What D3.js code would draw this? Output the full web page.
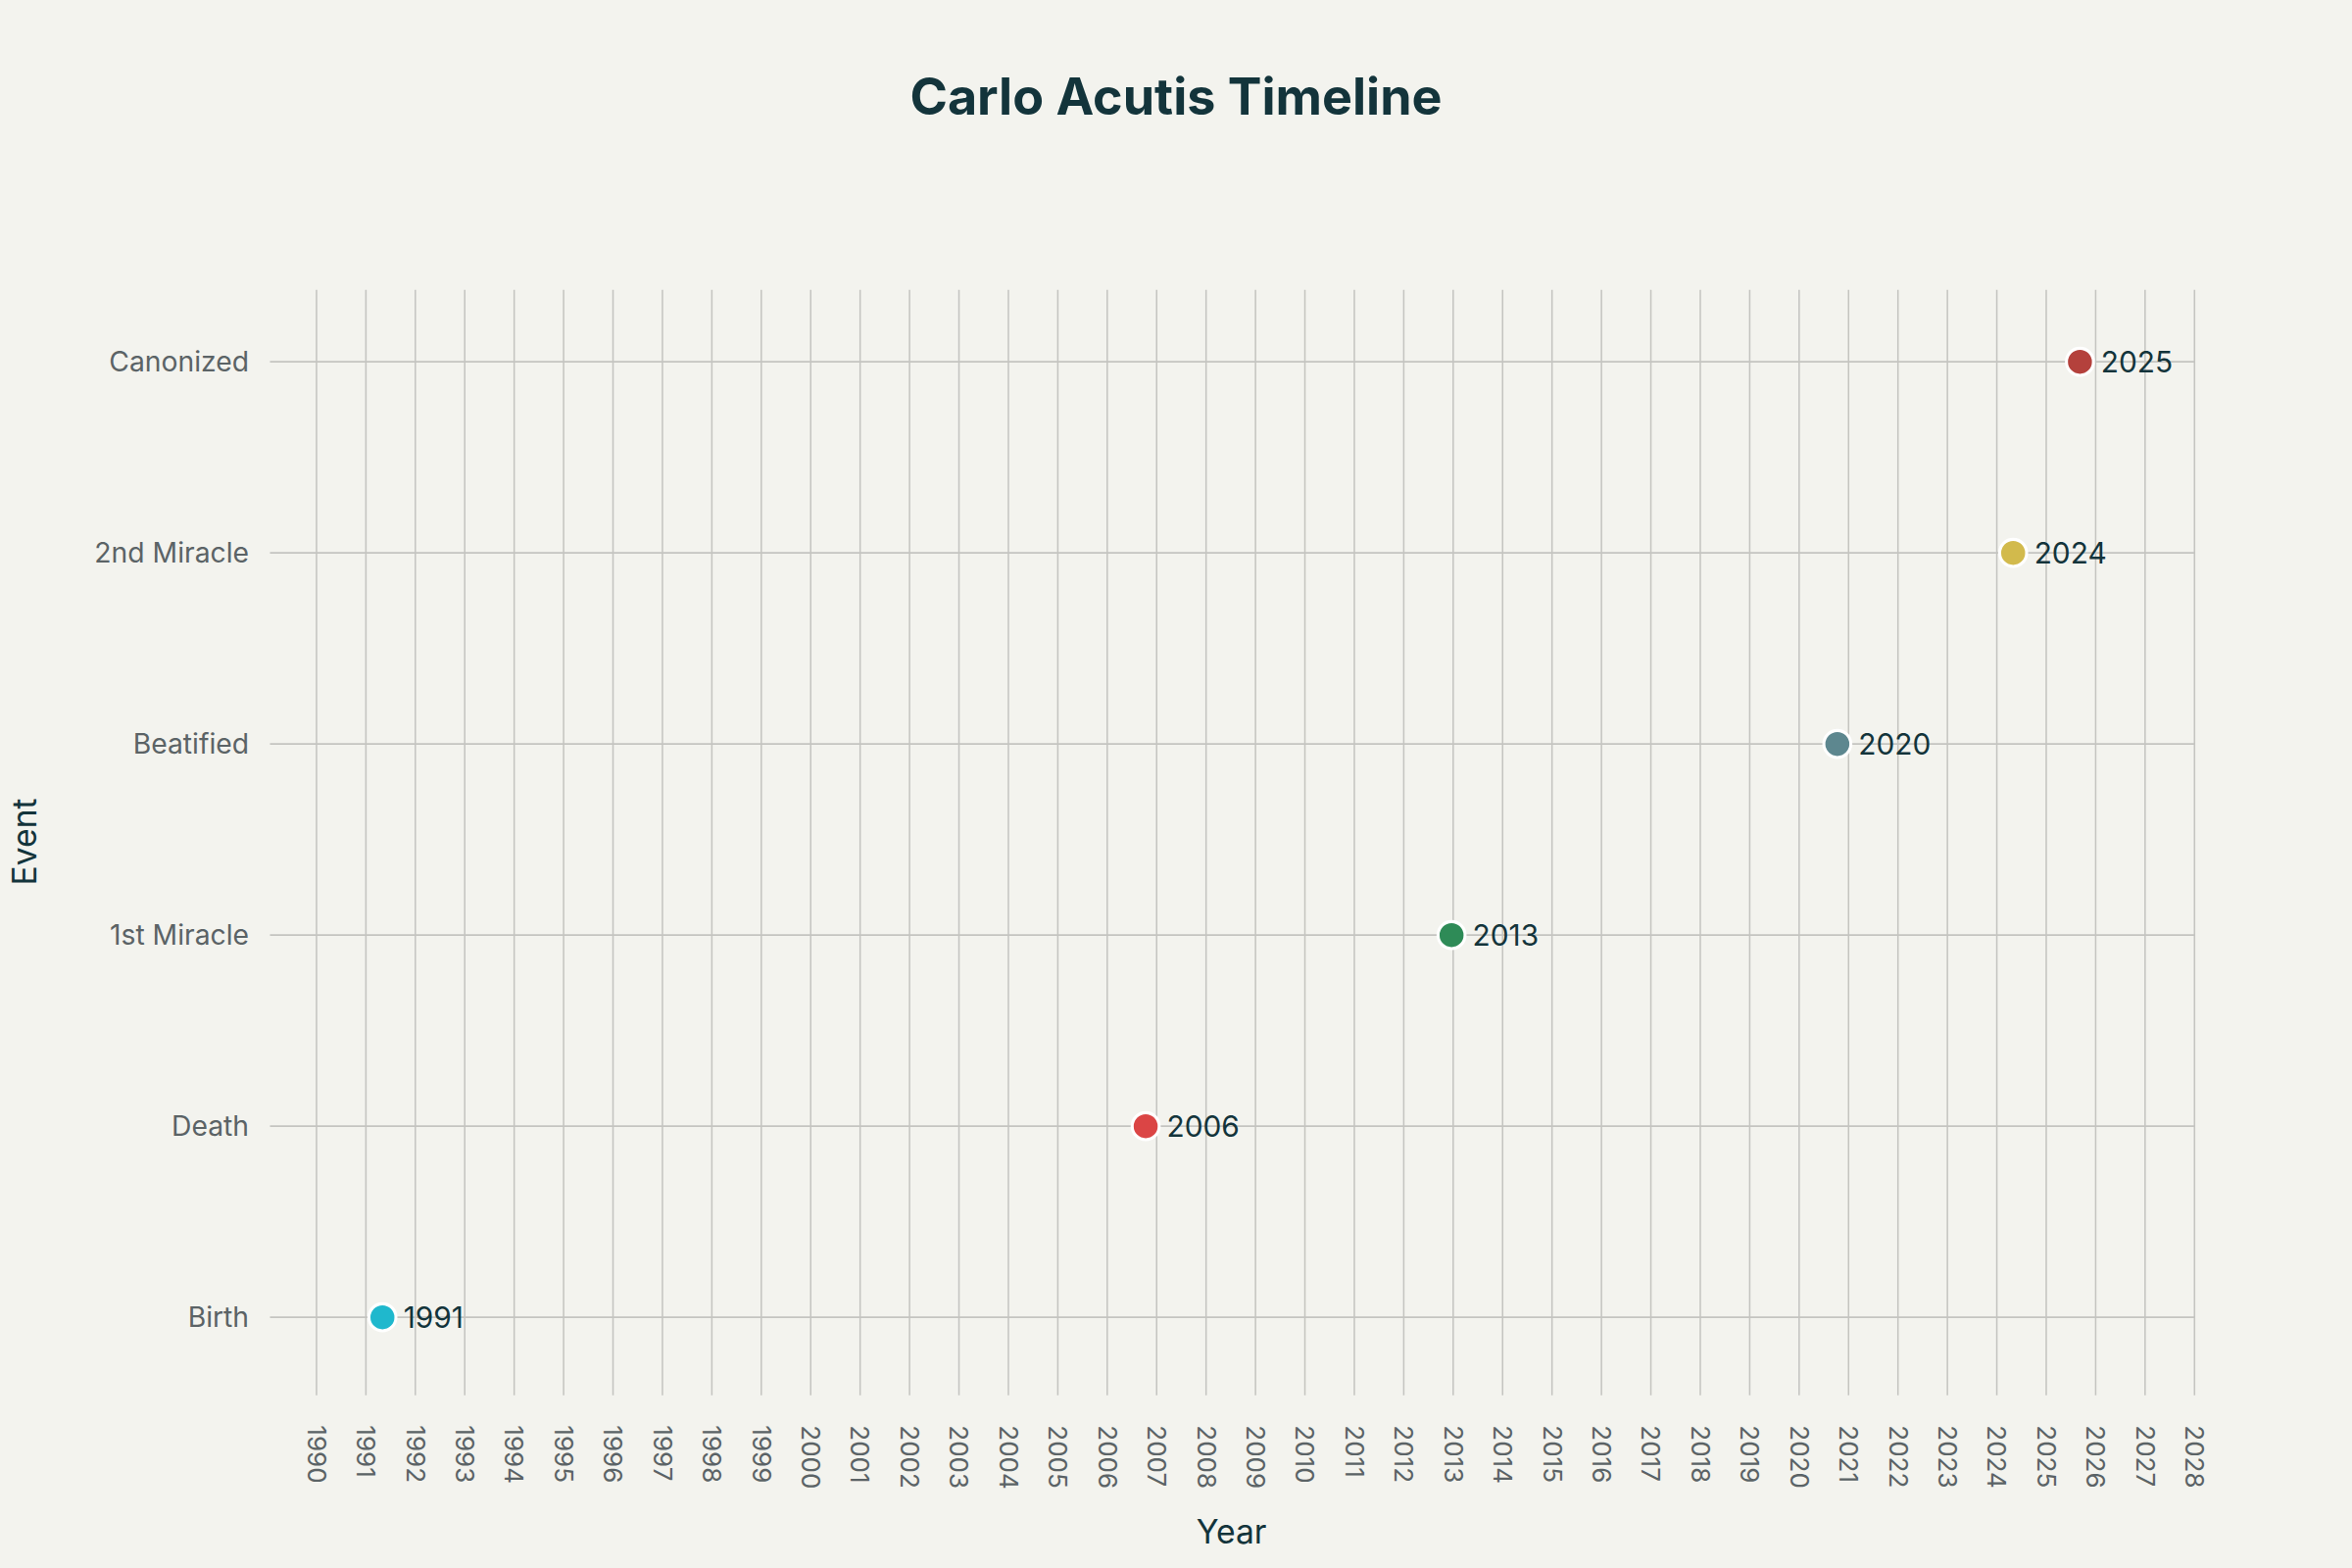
<!doctype html>
<html>
<head>
<script src="https://cdn.jsdelivr.net/npm/d3@7"></script>
<style>
  body { margin: 0; background: #F3F3EE; }
  text { font-family: Inter, "Noto Sans", sans-serif; }
</style>
</head>
<body>
<svg id="chart" width="2400" height="1600" viewBox="0 0 1568 1045"></svg>
<script>
// data
var events = ["Birth", "Death", "1st Miracle", "Beatified", "2nd Miracle", "Canonized"];
var dates = ["1991-05-03", "2006-10-12", "2012-12-20", "2020-10-10", "2024-05-01", "2025-09-07"];
var labels = ["1991", "2006", "2013", "2020", "2024", "2025"];
var colors = ["#1FB8CD", "#DB4545", "#2E8B57", "#5D878F", "#D2BA4C", "#B4413C"];
var tickYears = d3.range(1990, 2029);

var svg = d3.select("#chart");
var plotLeft = 180, plotRight = 1463, plotTop = 193, plotBottom = 930;

var x = d3.scaleLinear().domain([1990 - (211 - plotLeft) / 32.95, 2028]).range([plotLeft, plotRight]);
var y = d3.scalePoint().domain(events).range([878, 241]);

function yearFrac(s) {
  var d = new Date(s);
  var y0 = new Date(d.getFullYear(), 0, 1), y1 = new Date(d.getFullYear() + 1, 0, 1);
  return d.getFullYear() + (d - y0) / (y1 - y0);
}

// grid
svg.append("g").selectAll("line").data(tickYears).enter().append("line")
  .attr("x1", function(d){ return x(d); }).attr("x2", function(d){ return x(d); })
  .attr("y1", plotTop).attr("y2", plotBottom)
  .attr("stroke", "#c4c4c0").attr("stroke-width", 1);
svg.append("g").selectAll("line").data(events).enter().append("line")
  .attr("x1", plotLeft).attr("x2", plotRight)
  .attr("y1", function(d){ return y(d); }).attr("y2", function(d){ return y(d); })
  .attr("stroke", "#c4c4c0").attr("stroke-width", 1);

// x tick labels (rotated)
svg.append("g").selectAll("text").data(tickYears).enter().append("text")
  .attr("transform", function(d){ return "translate(" + (x(d) - 6) + "," + 950 + ") rotate(90)"; })
  .attr("font-size", 17).attr("fill", "#5b6366")
  .text(function(d){ return d; });

// y tick labels
svg.append("g").selectAll("text").data(events).enter().append("text")
  .attr("x", 166).attr("y", function(d){ return y(d); })
  .attr("dy", "0.35em").attr("text-anchor", "end")
  .attr("font-size", 18.5).attr("fill", "#5b6366")
  .text(function(d){ return d; });

// points
var pts = events.map(function(e, i){ return {e: e, t: yearFrac(dates[i]), l: labels[i], c: colors[i]}; });
svg.append("g").selectAll("circle").data(pts).enter().append("circle")
  .attr("cx", function(d){ return x(d.t); }).attr("cy", function(d){ return y(d.e); })
  .attr("r", 9).attr("fill", function(d){ return d.c; })
  .attr("stroke", "#ffffff").attr("stroke-width", 2);
svg.append("g").selectAll("text").data(pts).enter().append("text")
  .attr("x", function(d){ return x(d.t) + 14; }).attr("y", function(d){ return y(d.e); })
  .attr("dy", "0.35em").attr("font-size", 19.5).attr("fill", "#13343B")
  .text(function(d){ return d.l; });

// titles
svg.append("text").attr("x", 784).attr("y", 76).attr("text-anchor", "middle")
  .attr("font-size", 34).attr("font-weight", "bold").attr("fill", "#13343B")
  .text("Carlo Acutis Timeline");
svg.append("text").attr("x", 821).attr("y", 1029).attr("text-anchor", "middle")
  .attr("font-size", 22).attr("fill", "#13343B").text("Year");
svg.append("text").attr("transform", "translate(24,561) rotate(-90)").attr("text-anchor", "middle")
  .attr("font-size", 22).attr("fill", "#13343B").text("Event");
</script>
</body>
</html>
